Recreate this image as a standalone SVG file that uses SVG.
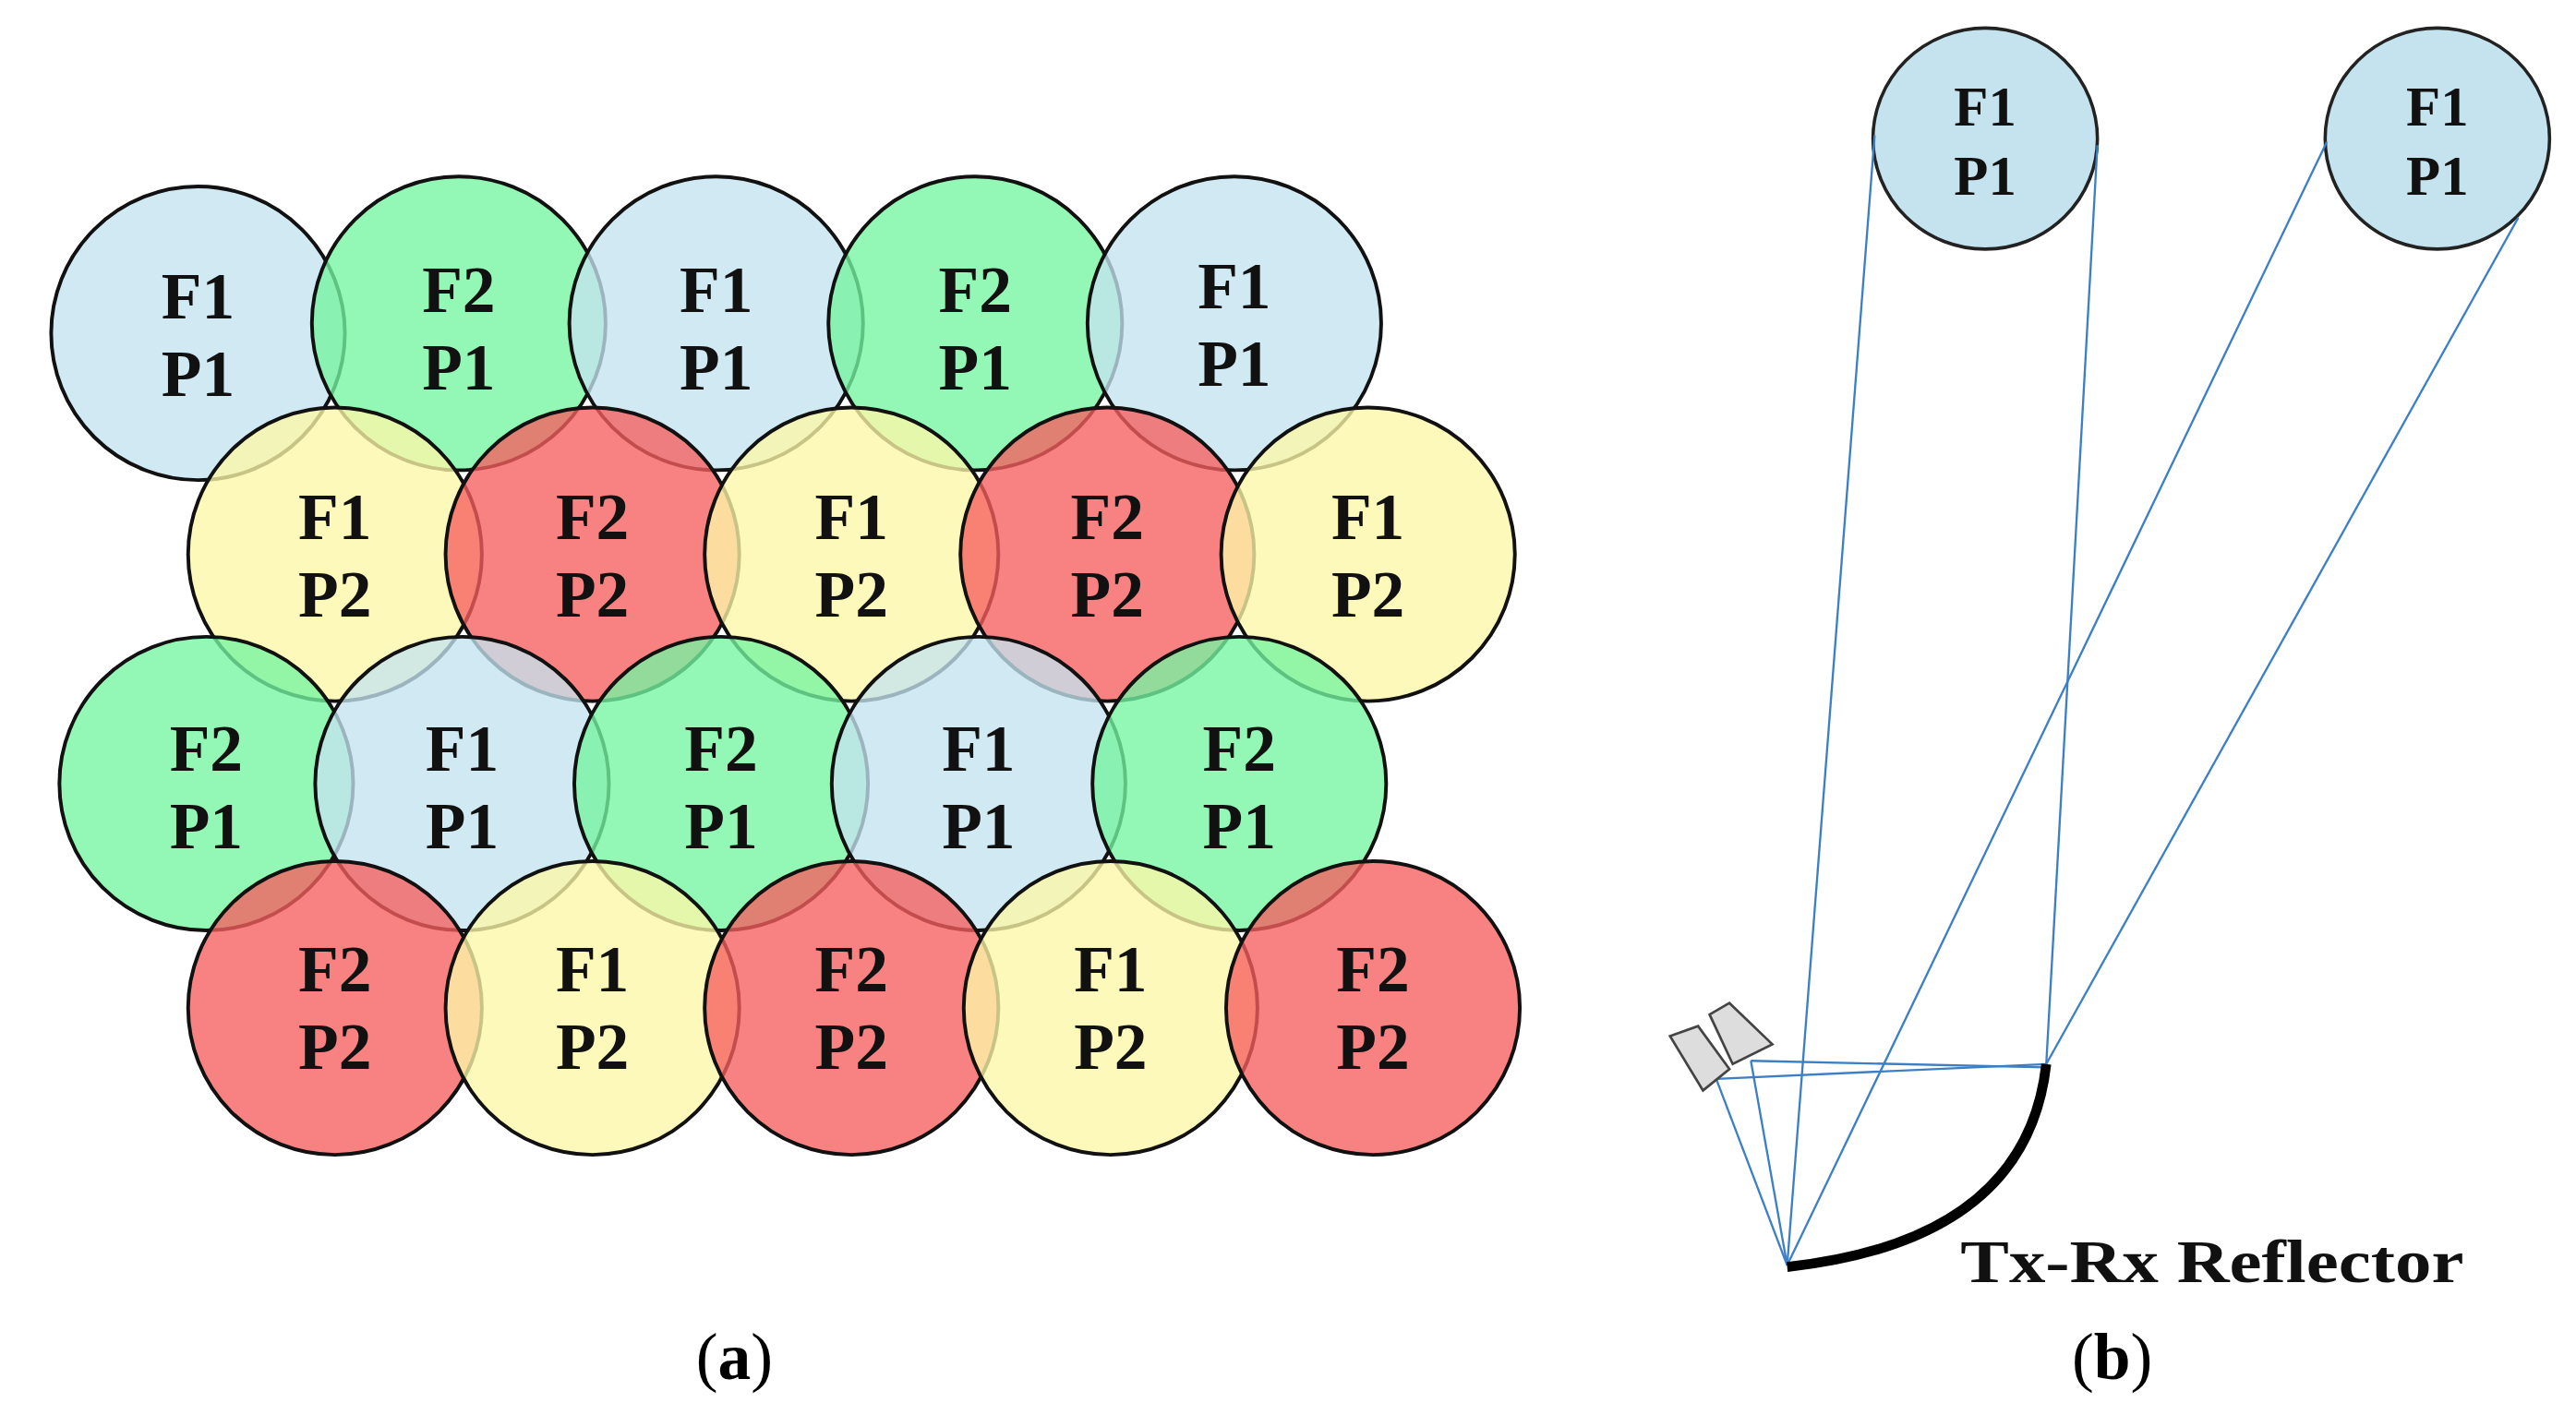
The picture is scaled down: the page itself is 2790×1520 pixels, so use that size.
<svg xmlns="http://www.w3.org/2000/svg" width="2790" height="1520" viewBox="0 0 2790 1520">
<style>
.c{stroke:#111;stroke-width:2.2;fill-opacity:0.78}
.b{fill:#c4e3ee}.g{fill:#74f5a2}.y{fill:#fcf7a8}.r{fill:#f65f5f}
.t{font-family:"Liberation Serif",serif;font-weight:bold;font-size:40px;text-anchor:middle;fill:#111}
.ray{stroke:#3c7fc4;stroke-width:1.3;fill:none}
</style>
<rect width="2790" height="1520" fill="#fff"/>
<g transform="scale(1.7873)">
<g id="cells">
<g id="r1c1"><circle class="c b" cx="120" cy="202" r="89"/><text class="t" x="120" y="193">F1</text><text class="t" x="120" y="240">P1</text></g>
<g id="r1c2"><circle class="c g" cx="278" cy="196" r="89"/><text class="t" x="278" y="189">F2</text><text class="t" x="278" y="236">P1</text></g>
<g id="r1c3"><circle class="c b" cx="434" cy="196" r="89"/><text class="t" x="434" y="189">F1</text><text class="t" x="434" y="236">P1</text></g>
<g id="r1c4"><circle class="c g" cx="591" cy="196" r="89"/><text class="t" x="591" y="189">F2</text><text class="t" x="591" y="236">P1</text></g>
<g id="r1c5"><circle class="c b" cx="748" cy="196" r="89"/><text class="t" x="748" y="187">F1</text><text class="t" x="748" y="234">P1</text></g>
<g id="r2c1"><circle class="c y" cx="203" cy="336" r="89"/><text class="t" x="203" y="327">F1</text><text class="t" x="203" y="374">P2</text></g>
<g id="r2c2"><circle class="c r" cx="359" cy="336" r="89"/><text class="t" x="359" y="327">F2</text><text class="t" x="359" y="374">P2</text></g>
<g id="r2c3"><circle class="c y" cx="516" cy="336" r="89"/><text class="t" x="516" y="327">F1</text><text class="t" x="516" y="374">P2</text></g>
<g id="r2c4"><circle class="c r" cx="671" cy="336" r="89"/><text class="t" x="671" y="327">F2</text><text class="t" x="671" y="374">P2</text></g>
<g id="r2c5"><circle class="c y" cx="829" cy="336" r="89"/><text class="t" x="829" y="327">F1</text><text class="t" x="829" y="374">P2</text></g>
<g id="r3c1"><circle class="c g" cx="125" cy="475" r="89"/><text class="t" x="125" y="467">F2</text><text class="t" x="125" y="514">P1</text></g>
<g id="r3c2"><circle class="c b" cx="280" cy="475" r="89"/><text class="t" x="280" y="467">F1</text><text class="t" x="280" y="514">P1</text></g>
<g id="r3c3"><circle class="c g" cx="437" cy="475" r="89"/><text class="t" x="437" y="467">F2</text><text class="t" x="437" y="514">P1</text></g>
<g id="r3c4"><circle class="c b" cx="593" cy="475" r="89"/><text class="t" x="593" y="467">F1</text><text class="t" x="593" y="514">P1</text></g>
<g id="r3c5"><circle class="c g" cx="751" cy="475" r="89"/><text class="t" x="751" y="467">F2</text><text class="t" x="751" y="514">P1</text></g>
<g id="r4c1"><circle class="c r" cx="203" cy="611" r="89"/><text class="t" x="203" y="601">F2</text><text class="t" x="203" y="648">P2</text></g>
<g id="r4c2"><circle class="c y" cx="359" cy="611" r="89"/><text class="t" x="359" y="601">F1</text><text class="t" x="359" y="648">P2</text></g>
<g id="r4c3"><circle class="c r" cx="516" cy="611" r="89"/><text class="t" x="516" y="601">F2</text><text class="t" x="516" y="648">P2</text></g>
<g id="r4c4"><circle class="c y" cx="673" cy="611" r="89"/><text class="t" x="673" y="601">F1</text><text class="t" x="673" y="648">P2</text></g>
<g id="r4c5"><circle class="c r" cx="832" cy="611" r="89"/><text class="t" x="832" y="601">F2</text><text class="t" x="832" y="648">P2</text></g>
</g>
<g id="beam1"><ellipse cx="1203" cy="84" rx="68" ry="67" fill="#c4e3ee" stroke="#222" stroke-width="2"/><text class="t" x="1203" y="76" style="font-size:34px">F1</text><text class="t" x="1203" y="118" style="font-size:34px">P1</text></g>
<g id="beam2"><ellipse cx="1477" cy="84" rx="68" ry="67" fill="#c4e3ee" stroke="#222" stroke-width="2"/><text class="t" x="1477" y="76" style="font-size:34px">F1</text><text class="t" x="1477" y="118" style="font-size:34px">P1</text></g>
<g id="connectors">
<line class="ray" x1="1136" y1="82" x2="1083" y2="767"/>
<line class="ray" x1="1271" y1="88" x2="1240" y2="645"/>
<line class="ray" x1="1410" y1="86" x2="1083" y2="767"/>
<line class="ray" x1="1526" y1="132" x2="1240" y2="645"/>
<line class="ray" x1="1040" y1="654" x2="1240" y2="645"/>
<line class="ray" x1="1061" y1="643" x2="1240" y2="647"/>
<line class="ray" x1="1040" y1="654" x2="1083" y2="767"/>
<line class="ray" x1="1061" y1="643" x2="1083" y2="767"/>
</g>
<g id="feeds">
<polygon points="1012,628 1029,622 1048,648 1032,661" fill="#ddd" stroke="#444" stroke-width="1.5"/>
<polygon points="1036,615 1048,608 1074,633 1050,645" fill="#ddd" stroke="#444" stroke-width="1.5"/>
</g>
<g id="reflector">
<path d="M1083,768 Q1228,752 1240,645" fill="none" stroke="#000" stroke-width="6"/>
<text x="1188" y="777" textLength="305" lengthAdjust="spacingAndGlyphs" style="font-family:'Liberation Serif',serif;font-weight:bold;font-size:37px;fill:#111">Tx-Rx Reflector</text>
</g>
<text x="445" y="836" style="font-family:'Liberation Serif',serif;font-size:40px;text-anchor:middle">(<tspan font-weight="bold">a</tspan>)</text>
<text x="1280" y="836" style="font-family:'Liberation Serif',serif;font-size:40px;text-anchor:middle">(<tspan font-weight="bold">b</tspan>)</text>
</g>
</svg>
